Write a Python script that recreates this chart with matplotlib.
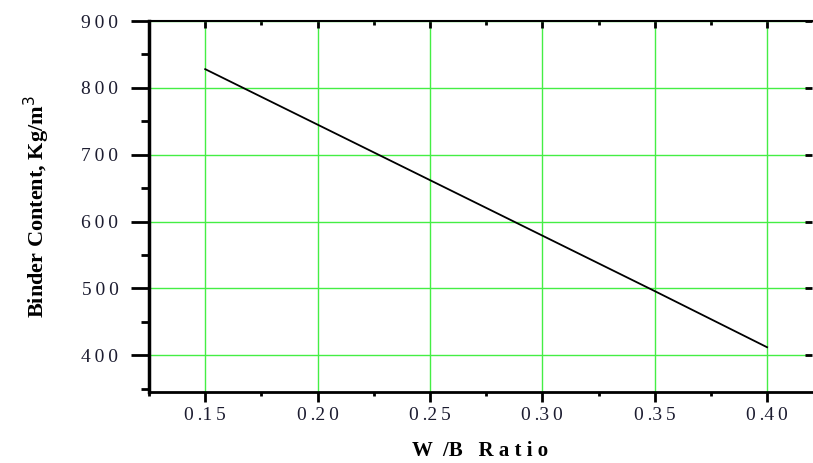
import matplotlib.pyplot as plt
from matplotlib.ticker import MultipleLocator

# W/B ratio vs binder content
wb_ratio = [0.15, 0.20, 0.25, 0.30, 0.35, 0.40]
binder = [828, 745, 662, 579, 496, 412]

x_ticks = [0.15, 0.20, 0.25, 0.30, 0.35, 0.40]
x_labels = ['0.15', '0.20', '0.25', '0.30', '0.35', '0.40']
y_ticks = [400, 500, 600, 700, 800, 900]
y_labels = ['400', '500', '600', '700', '800', '900']

plt.rcParams['font.family'] = ['Liberation Serif', 'DejaVu Serif']

# the original spreads the digits out
GAP = '\u2009'
def spread_x(s):
    return s[0] + GAP + s[1:3] + GAP + s[3:]
def spread_y(s):
    return GAP.join(s)

fig = plt.figure(figsize=(8.13, 4.63), dpi=100)
ax = fig.add_axes([0.1833, 0.1533, 0.8155, 0.8013])

ax.plot(wb_ratio, binder, color='black', lw=1.3, zorder=3)

ax.set_xlim(0.125, 0.42)
ax.set_ylim(345, 900)

ax.set_xticks(x_ticks)
ax.set_xticklabels([spread_x(s) for s in x_labels])
ax.set_yticks(y_ticks)
ax.set_yticklabels([spread_y(s) for s in y_labels])
ax.xaxis.set_minor_locator(MultipleLocator(0.025))
ax.yaxis.set_minor_locator(MultipleLocator(50))

ax.grid(True, which='major', color='#44ee44', lw=1)
ax.set_axisbelow(True)

ax.tick_params(axis='both', which='major', labelsize=14, labelcolor='#1c1c30', width=2)
ax.tick_params(axis='x', which='major', direction='out', length=7, pad=4, top=True)
ax.tick_params(axis='y', which='major', direction='out', length=13, pad=9, right=True)
ax.tick_params(axis='x', which='minor', direction='out', length=3, width=2, top=True)
ax.tick_params(axis='y', which='minor', direction='out', length=6, width=2, right=True)

# top and right ticks point inward, shorter; no minor ticks on the right
for t in ax.xaxis.get_major_ticks():
    t.tick2line.set_marker(3)
    t.tick2line.set_markersize(5)
for t in ax.xaxis.get_minor_ticks():
    t.tick2line.set_marker(3)
    t.tick2line.set_markersize(3)
for t in ax.yaxis.get_major_ticks():
    t.tick2line.set_marker(0)
    t.tick2line.set_markersize(5)
for t in ax.yaxis.get_minor_ticks():
    t.tick2line.set_visible(False)

ax.spines['left'].set_linewidth(2.5)
ax.spines['bottom'].set_linewidth(2)
ax.spines['top'].set_linewidth(1.5)
ax.spines['right'].set_visible(False)

ax.set_xlabel('W  /B   R a t i o', fontsize=15, fontweight='bold', labelpad=12)
ax.set_ylabel('Binder Content, Kg/m$^{3}$', fontsize=16,
              fontweight='bold', labelpad=21)

fig.savefig('out.png', dpi=100)
